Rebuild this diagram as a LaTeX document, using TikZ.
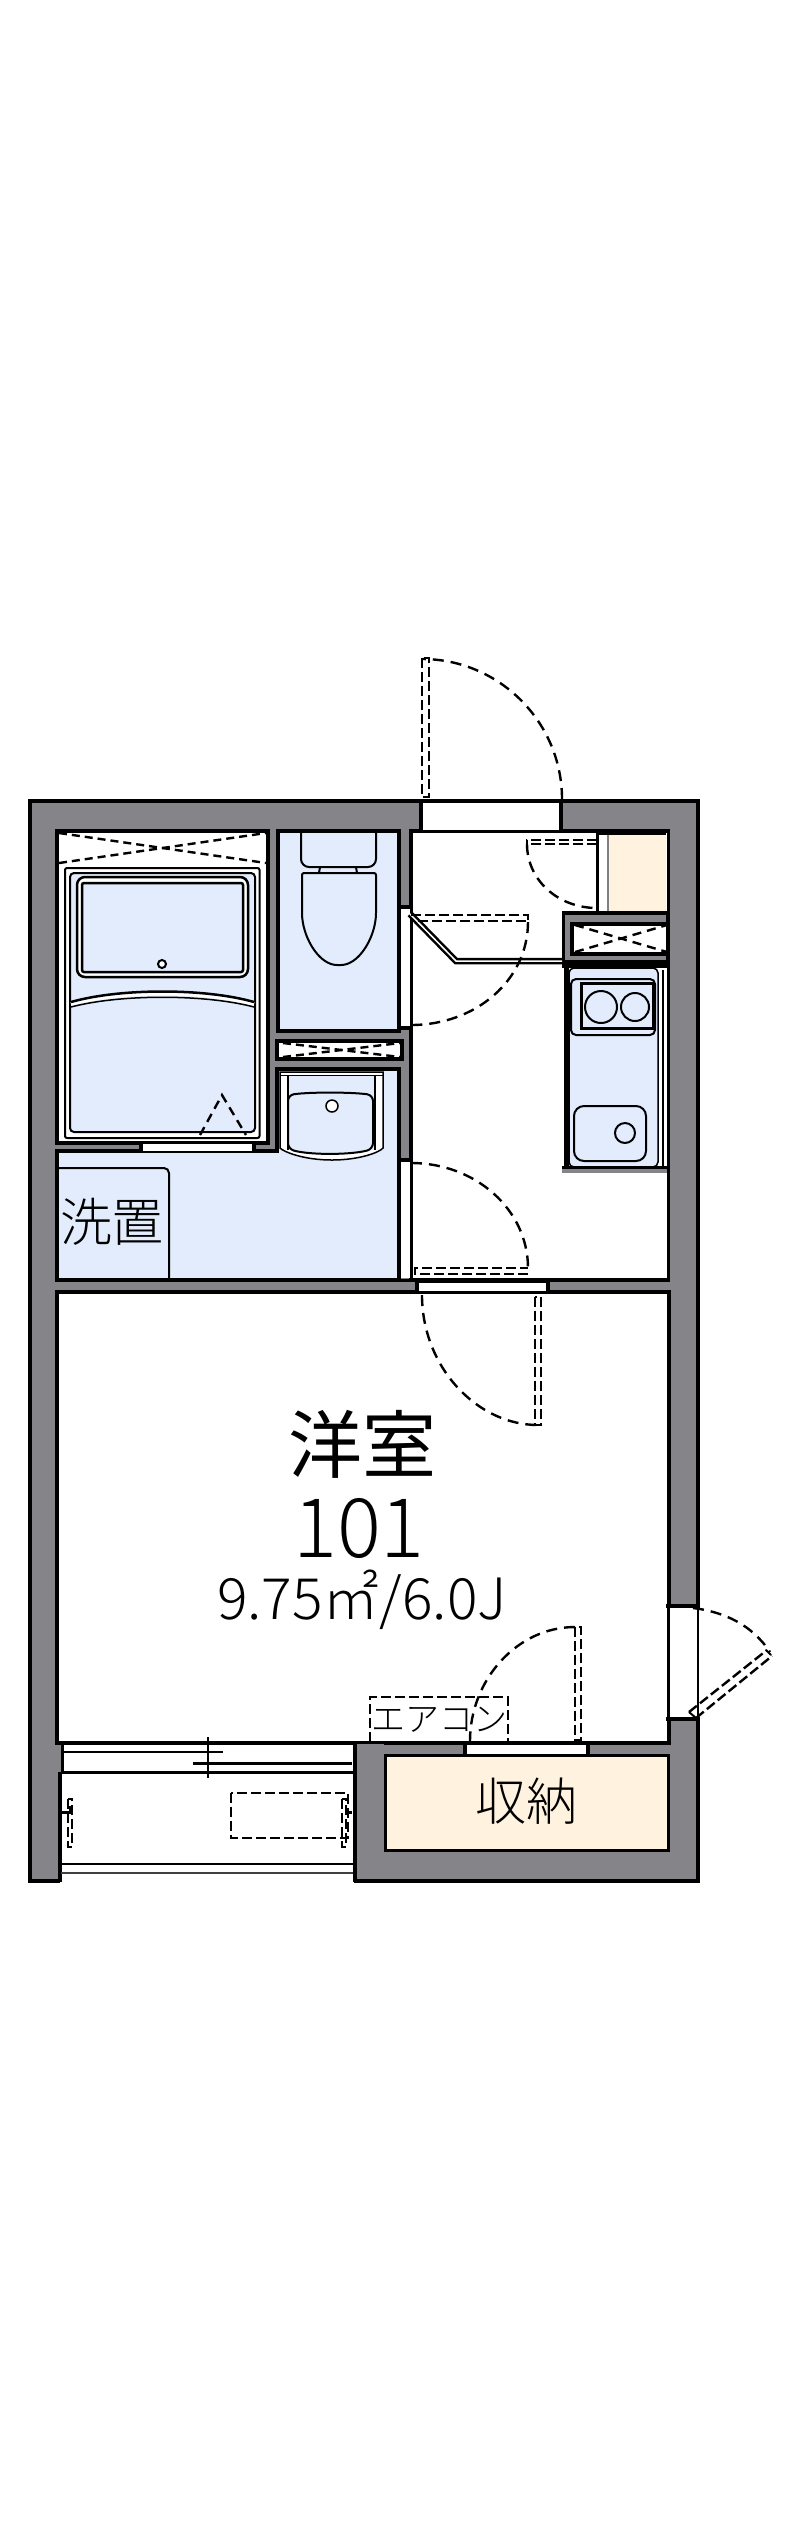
\documentclass[tikz,border=0pt]{standalone}
\usepackage{fontspec}
\setmainfont{Noto Sans CJK JP}
\newfontfamily\lightface{Noto Sans CJK JP Light}
\definecolor{wallgrey}{HTML}{858488}
\definecolor{roomblue}{HTML}{E2ECFC}
\definecolor{creamfill}{HTML}{FFF3E0}
\tikzset{
  wl/.style={draw=black,line width=2pt,line join=miter},
  wlthin/.style={draw=black,line width=1.5pt},
  fine/.style={draw=black,line width=1pt},
  hair/.style={draw=black,line width=0.75pt},
  swing/.style={draw=black,line width=1.2pt,dash pattern=on 5.5pt off 3.5pt},
  panel/.style={draw=black,line width=1.2pt,dash pattern=on 5pt off 2pt},
  label/.style={inner sep=0pt,text=black}
}
\begin{document}
\begin{tikzpicture}[x=0.5pt,y=-0.5pt]
\useasboundingbox (0,0) rectangle (800,2539);
\fill[white] (0,0) rectangle (800,2539);
% shell
\fill[wallgrey,draw=black,line width=2pt] (30,801) rectangle (698,1880.5);
% balcony cut-out
\fill[white] (60,1744) rectangle (354,1884);
% bath room
\path[wl,fill=white] (57,831) rectangle (268,1142.5);
% toilet
\path[wl,fill=roomblue] (278,831) rectangle (399,1031);
% washroom
\path[wl,fill=roomblue] (57,1151) -- (277,1151) -- (277,1069) -- (399,1069) -- (399,1280) -- (57,1280) -- cycle;
% box over basin
\path[wl,fill=white] (277,1041) rectangle (402,1058.5);
% hall
\path[draw=black,line width=1.75pt,fill=white] (411,831) -- (668.5,831) -- (668.5,1280) -- (411,1280) -- cycle;
% main room
\path[draw=black,line width=2pt,fill=white] (57,1292) -- (668.5,1292) -- (668.5,1743) -- (57,1743) -- cycle;
% grey between washroom and hall at the mid wall
\fill[wallgrey] (59,1282) rectangle (666,1289);
\draw[draw=black,line width=1.5pt] (57,1280) -- (668,1280);
% entrance gap
\fill[white] (422,802) rectangle (559,830);
\draw[wlthin] (420,801) -- (561,801);
\draw[wlthin] (411,831) -- (600,831);
\draw[wl] (420.5,800) -- (420.5,831);
\draw[wl] (561,800) -- (561,831);
% gaps in the wall by the hall
\fill[white] (401,908) rectangle (410,1028);
\fill[white] (401,1161) rectangle (410,1278);
\draw[fine] (411,908) -- (411,1028);
\draw[fine] (411,1161) -- (411,1278);
\draw[wl] (397,907) -- (413,907);
\draw[wl] (397,1027.5) -- (413,1027.5);
\draw[wl] (397,1159.5) -- (413,1159.5);
% mid wall gap
\fill[white] (418,1282) rectangle (546,1291);
\draw[fine] (418,1281.5) -- (546,1281.5);
\draw[fine] (418,1292) -- (546,1292);
\draw[wl] (416.5,1278) -- (416.5,1294);
\draw[wl] (548,1278) -- (548,1294);
% bath door gap
\fill[white] (142,1143) rectangle (252,1150.5);
\draw[fine] (142,1142.5) -- (252,1142.5);
\draw[fine] (142,1151.5) -- (252,1151.5);
\draw[wl] (141,1141) -- (141,1153);
\draw[wl] (254,1141) -- (254,1153);
% shoe cupboard
\path[fill=white] (597,834) rectangle (609,912);
\path[fill=creamfill] (609,835) rectangle (666,911);
\draw[wlthin] (597,833) -- (597,912);
\draw[draw=gray,line width=0.75pt] (608,835) -- (608,912);
\draw[hair] (597,834) -- (666,834);
% block under cupboard
\path[fill=wallgrey,draw=black,line width=1.75pt] (563.5,913) rectangle (668,964);
\path[fill=white,draw=black,line width=2pt] (572,923.5) rectangle (668,953.5);
\fill[black] (562,960) rectangle (670,968);
% kitchen counter
\fill[white] (564,968) rectangle (667,1168);
\path[fill=roomblue,draw=black,line width=0.75pt,rounded corners=2.5pt] (569,968) -- (658,968) -- (658,1167) -- (569,1167) -- cycle;
\draw[hair] (663,970) -- (663,1167);
\draw[draw=black,line width=2.5pt] (566.5,966) -- (566.5,1169);
\fill[black] (562,1166) rectangle (668,1169);
\fill[wallgrey] (562,1169) rectangle (668,1173);
\draw[draw=black,line width=1.75pt] (668.5,831) -- (668.5,1280);
% stove
\path[fine,rounded corners=2.5pt] (571,979) rectangle (655,1035);
\path[draw=black,line width=1.5pt] (581,983.5) rectangle (653,1028.5);
\draw[fine] (601,1007) circle[radius=16];
\draw[fine] (635,1007) circle[radius=14];
% sink
\path[fine,rounded corners=5pt] (574,1106) rectangle (646,1161);
\draw[fine] (625,1133) circle[radius=10];
% diagonal partition
\draw[draw=black,line width=3.25pt,line join=miter] (410,914) -- (456,961) -- (562,961);
\draw[draw=white,line width=0.75pt,line join=miter] (410,914) -- (456,961) -- (562,961);
% ---------- bath fittings
\path[fine,fill=white,rounded corners=1pt] (65,868) rectangle (259.5,1138);
\path[fine,fill=roomblue,rounded corners=2pt] (70,873) rectangle (255,1132);
\path[draw=black,line width=1.25pt,fill=white,rounded corners=4pt] (77,877) rectangle (248,977);
\path[draw=black,line width=1.25pt,fill=roomblue,rounded corners=1pt] (82,883) rectangle (243,972);
\draw[fine,fill=white] (162,964) circle[radius=4];
\draw[draw=white,line width=2pt] (71,1004) .. controls (120,990) and (205,990) .. (254,1004);
\draw[draw=black,line width=1.25pt] (71,1002) .. controls (120,988) and (205,988) .. (254,1002);
\draw[hair] (71,1007) .. controls (120,994) and (205,994) .. (254,1007);
\draw[swing,dash pattern=on 4pt off 2.5pt] (59,833) -- (266,863);
\draw[swing,dash pattern=on 4pt off 2.5pt] (59,863) -- (266,833);
\draw[swing,dash pattern=on 4.5pt off 3pt] (200,1135) -- (222,1095) -- (246,1135);
% ---------- toilet
\path[fine,rounded corners=4pt] (301,833) -- (301,867) -- (376,867) -- (376,833);
\draw[fine] (320,867) -- (319,873);
\draw[fine] (356,867) -- (357,873);
\path[fine,rounded corners=1pt] (302,873) -- (376,873) -- (376,915) .. controls (374,940) and (358,965) .. (339,965) .. controls (320,965) and (304,940) .. (302,915) -- cycle;
% ---------- over-basin box X
\draw[swing,dash pattern=on 4pt off 2.5pt] (283,1043) -- (400,1057);
\draw[swing,dash pattern=on 4pt off 2.5pt] (283,1057) -- (400,1043);
% ---------- shoe box X
\draw[swing,dash pattern=on 4.5pt off 3pt] (575,925) -- (667,952);
\draw[swing,dash pattern=on 4.5pt off 3pt] (575,952) -- (667,925);
% ---------- basin
\path[hair,fill=white] (280,1072) -- (383,1072) -- (383,1148) .. controls (380,1152) and (360,1160) .. (332,1160) .. controls (304,1160) and (284,1152) .. (280,1148) -- cycle;
\path[fill=roomblue] (288,1076) rectangle (375,1150);
\draw[hair] (288,1075) -- (288,1150);
\draw[hair] (375,1075) -- (375,1150);
\draw[hair] (280,1075.5) -- (383,1075.5);
\path[fine,fill=roomblue,rounded corners=3pt] (288,1095) .. controls (310,1092) and (350,1092) .. (373,1095) -- (373,1149) .. controls (350,1155) and (310,1155) .. (288,1149) -- cycle;
\draw[hair,fill=white] (332,1106) circle[radius=6];
% ---------- washing machine
\path[fine,rounded corners=2.5pt] (59,1168) -- (169,1168) -- (169,1278);
\draw[fine] (59,1168) -- (68,1168);
\node[label,font=\lightface\fontsize{26pt}{27pt}\selectfont] (washlabel) at (112,1222) {洗置};
% ---------- doors
\draw[swing] (562,799) .. controls (562,722) and (499,659) .. (422,659);
\draw[panel] (422,658) rectangle (429,797);
\draw[swing] (528,922) .. controls (528,980) and (476,1025) .. (411,1025);
\draw[panel] (411,915) -- (528,915) -- (528,927);
\draw[panel] (418,921) -- (528,921);
\draw[swing] (411,1163) .. controls (476,1163) and (528,1210) .. (528,1268);
\draw[panel] (528,1274) -- (415,1274) -- (415,1268) -- (528,1268);
\draw[swing] (422,1295) .. controls (422,1367) and (477,1425) .. (538,1425);
\draw[panel] (535,1297) rectangle (541,1425);
\draw[swing] (527,844) .. controls (527,880) and (558,908) .. (597,908);
\draw[panel] (597,840) -- (527,840) -- (527,848);
\draw[panel] (597,844) -- (527,844);
\draw[swing] (575,1627) .. controls (517,1627) and (470,1680) .. (470,1741);
\draw[panel] (575,1627) rectangle (581,1740);
% ---------- east window and door
\fill[white] (667,1607) rectangle (697,1717);
\draw[fine] (668.5,1607) -- (668.5,1717);
\draw[draw=black,line width=1.25pt] (698,1605) -- (698,1717);
\fill[white] (699,1607) rectangle (701,1717);
\draw[wl] (666,1605.5) -- (700,1605.5);
\draw[wl] (666,1719) -- (700,1719);
\draw[swing] (693,1608) .. controls (725,1612) and (752,1625) .. (770,1652);
\draw[panel] (689,1712) -- (767,1650);
\draw[panel] (696,1718) -- (772,1656);
\draw[fine] (689,1712) -- (696,1718);
\draw[fine] (766,1650) -- (771,1655);
% ---------- closet
\path[draw=black,line width=1.75pt,fill=creamfill] (385.5,1755.5) rectangle (668.5,1850.5);
\fill[white] (467,1745) rectangle (586,1754);
\draw[fine] (467,1744) -- (586,1744);
\draw[wlthin] (467,1755) -- (586,1755);
\draw[wl] (465,1743) -- (465,1757);
\draw[wl] (588,1743) -- (588,1757);
\draw[wlthin] (668.5,1721) -- (668.5,1606);
% ---------- west bits: window, balcony
\fill[wallgrey] (354,1744) rectangle (384,1882);
\draw[wl] (355,1742) -- (355,1882);
\draw[wlthin] (60,1743) -- (352,1743);
\draw[hair] (63,1752) -- (223,1752);
\draw[wlthin] (193,1763) -- (352,1763);
\draw[wlthin] (59,1772) -- (353,1772);
\draw[hair] (208,1737) -- (208,1778);
\fill[wallgrey] (32,1745) rectangle (60.5,1878);
\draw[wl] (59.5,1772) -- (59.5,1882);
\draw[wlthin] (62,1743) -- (62,1772);
\draw[draw=black,line width=1pt] (61,1864) -- (353,1864);
\draw[draw=black!75,line width=1pt] (61,1873) -- (353,1873);
\draw[draw=black,line width=2pt] (28,1880.5) -- (60,1880.5);
\draw[draw=black,line width=2pt] (354,1880.5) -- (700,1880.5);
% balcony dashed things
\draw[panel,line width=1.25pt] (231,1793) rectangle (348,1838);
\draw[panel,line width=1pt] (68,1799) rectangle (72,1847);
\draw[panel,line width=1.25pt] (342,1799) rectangle (346,1847);
\draw[wlthin] (61,1812) -- (70,1812) -- (70,1806);
\draw[wlthin] (352,1812) -- (345,1812);
% ---------- air conditioner
\draw[panel,line width=1.25pt] (370,1742) -- (370,1697) -- (508,1697) -- (508,1742) -- cycle;
\node[label,font=\lightface\fontsize{17pt}{18pt}\selectfont] (aclabel) at (439,1720) {エアコン};
% ---------- labels
\node[label,font=\fontsize{37pt}{38pt}\selectfont] (roomlabel) at (362,1444) {洋室};
\node[label,font=\lightface\fontsize{41pt}{42pt}\selectfont] (roomnum) at (359,1528) {101};
\node[label,font=\lightface\fontsize{28.5pt}{29pt}\selectfont] (roomsize) at (362,1600) {9.75㎡/6.0J};
\node[label,font=\lightface\fontsize{25.5pt}{26pt}\selectfont] (closetlabel) at (526,1801) {収納};
\end{tikzpicture}
\end{document}
